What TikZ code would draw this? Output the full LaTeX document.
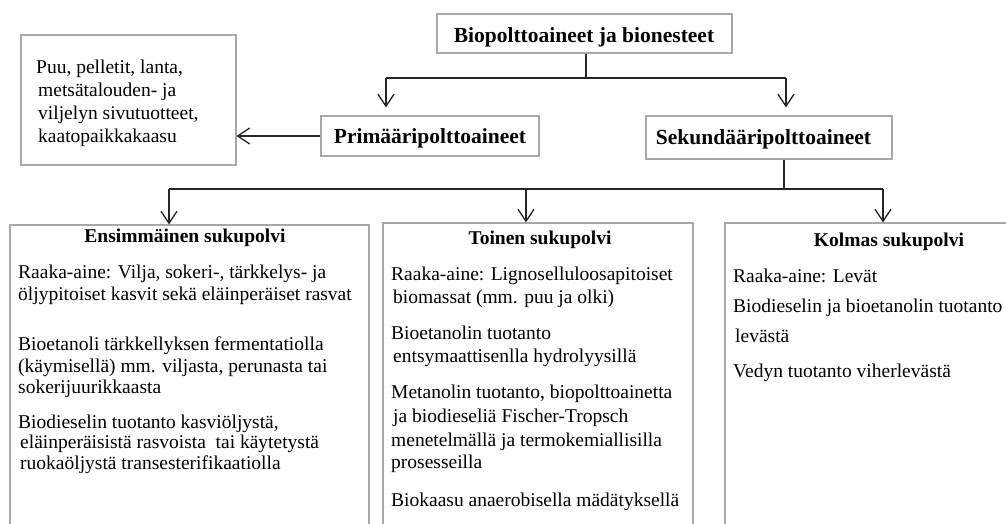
\documentclass[tikz,border=0pt]{standalone}
\usepackage{fontspec}
\setmainfont{Liberation Serif}
\usetikzlibrary{arrows.meta}
\definecolor{boxgray}{HTML}{A8A8A8}
\begin{document}
\begin{tikzpicture}[x=1pt,y=-1pt,
  box/.style={draw=boxgray, line width=1.2pt, rectangle, inner sep=0pt},
  conn/.style={draw=black!85, line width=1.3pt},
  arr/.style={conn, -{Straight Barb[length=12pt,width=16pt,line width=1.3pt]}},
  tl/.style={anchor=base west, inner sep=0pt, font=\fontsize{19.5}{23}\selectfont},
  hd/.style={anchor=base, inner sep=0pt, font=\fontsize{19.5}{23}\selectfont\bfseries},
  big/.style={anchor=base, inner sep=0pt, font=\fontsize{21.5}{25}\selectfont\bfseries}]
\useasboundingbox (0,0) rectangle (1006,523);
\clip (0,0) rectangle (1006,523);

% boxes
\node[box, minimum width=295pt, minimum height=39pt] (top) at (584.5,33.5) {};
\node[box, minimum width=215pt, minimum height=130pt] (left) at (128.5,100) {};
\node[box, minimum width=218pt, minimum height=40pt] (prim) at (430,136) {};
\node[box, minimum width=246pt, minimum height=43pt] (sek) at (769,137.5) {};
\node[box, minimum width=359pt, minimum height=335pt] (g1) at (189.5,392.5) {};
\node[box, minimum width=310pt, minimum height=337pt] (g2) at (538,391.5) {};
\node[box, minimum width=295pt, minimum height=337pt] (g3) at (872.5,391.5) {};

% titles
\node[big] (topt) at (584,42) {Biopolttoaineet ja bionesteet};
\node[big] (primt) at (430,143) {Primääripolttoaineet};
\node[big] (sekt) at (763.5,144) {Sekundääripolttoaineet};

% left box text
\node[tl] (p1) at (36,73) {Puu, pelletit, lanta,};
\node[tl] (p2) at (38,96) {metsätalouden- ja};
\node[tl] (p3) at (38,119) {viljelyn sivutuotteet,};
\node[tl] (p4) at (38,142) {kaatopaikkakaasu};

% first generation
\node[hd] (h1) at (185,242) {Ensimmäinen sukupolvi};
\node[tl] (e1) at (18,278) {Raaka-aine: Vilja, sokeri-, tärkkelys- ja};
\node[tl] (e2) at (18,300) {öljypitoiset kasvit sekä eläinperäiset rasvat};
\node[tl] (e3) at (18,350) {Bioetanoli tärkkellyksen fermentatiolla};
\node[tl] (e4) at (18,372) {(käymisellä) mm. viljasta, perunasta tai};
\node[tl] (e5) at (18,393) {sokerijuurikkaasta};
\node[tl] (e6) at (18,428) {Biodieselin tuotanto kasviöljystä,};
\node[tl] (e7) at (20,448) {eläinperäisistä rasvoista\ \ tai käytetystä};
\node[tl] (e8) at (20,469) {ruokaöljystä transesterifikaatiolla};

% second generation
\node[hd] (h2) at (540,244) {Toinen sukupolvi};
\node[tl] (t1) at (391,280) {Raaka-aine: Lignoselluloosapitoiset};
\node[tl] (t2) at (393,303) {biomassat (mm. puu ja olki)};
\node[tl] (t3) at (391,339) {Bioetanolin tuotanto};
\node[tl] (t4) at (393,362) {entsymaattisenlla hydrolyysillä};
\node[tl] (t5) at (391,398) {Metanolin tuotanto, biopolttoainetta};
\node[tl] (t6) at (393,422) {ja biodieseliä Fischer-Tropsch};
\node[tl] (t7) at (391,446) {menetelmällä ja termokemiallisilla};
\node[tl] (t8) at (391,468) {prosesseilla};
\node[tl] (t9) at (391,506) {Biokaasu anaerobisella mädätyksellä};

% third generation
\node[hd] (h3) at (889,246) {Kolmas sukupolvi};
\node[tl] (k1) at (733,282) {Raaka-aine: Levät};
\node[tl] (k2) at (733,312) {Biodieselin ja bioetanolin tuotanto};
\node[tl] (k3) at (735,342) {levästä};
\node[tl] (k4) at (733,377) {Vedyn tuotanto viherlevästä};

% connectors
\coordinate (j1) at (586,78);
\coordinate (jl) at (386,78);
\coordinate (jr) at (786,78);
\draw[conn] (top.south -| j1) -- (j1);
\draw[conn] (jl) -- (jr);
\draw[arr, shorten >=8pt] (jl) -- (jl |- prim.north);
\draw[arr, shorten >=8pt] (jr) -- (jr |- sek.north);
\draw[arr] (prim.west) -- (prim.west -| left.east);

\coordinate (js) at (784,189);
\coordinate (bl) at (169,189);
\coordinate (bm) at (526,189);
\coordinate (br) at (883,189);
\draw[conn] (sek.south -| js) -- (js);
\draw[conn] (bl) -- (br);
\draw[arr] (bl) -- (bl |- g1.north);
\draw[arr] (bm) -- (bm |- g2.north);
\draw[arr] (br) -- (br |- g3.north);
\end{tikzpicture}
\end{document}
